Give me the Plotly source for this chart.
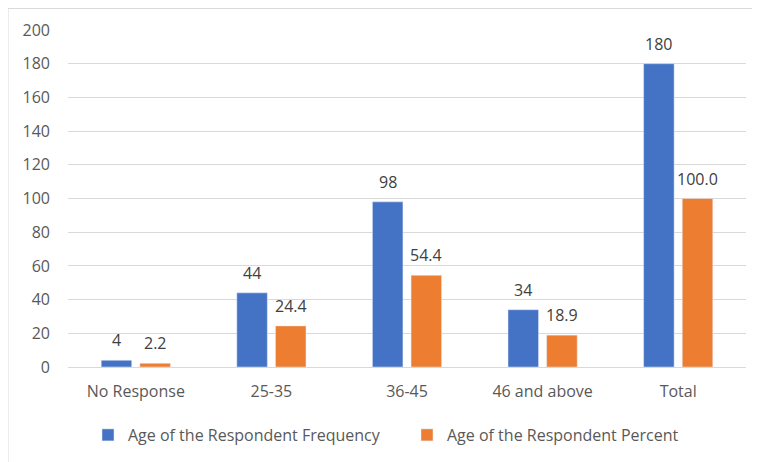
import plotly.graph_objects as go

categories = ["No Response", "25-35", "36-45", "46 and above", "Total"]
frequency = [4, 44, 98, 34, 180]
percent = [2.2, 24.4, 54.4, 18.9, 100.0]
freq_labels = ["4", "44", "98", "34", "180"]
pct_labels = ["2.2", "24.4", "54.4", "18.9", "100.0"]
y_ticks = list(range(0, 201, 20))

FONT = "Open Sans, Liberation Sans, sans-serif"
TXT = "#595959"
FS = 16

# page body has an 8px default margin, so the figure is drawn 8px smaller
W, H = 752, 454
L, T, R, B = 60, 22, 14, 95
PW, PH = W - L - R, H - T - B
BARGAP, GROUPGAP = 0.43, 0.21
slot_px = PW / len(categories) * (1 - BARGAP) / 2  # width of each bar slot in px

fig = go.Figure()
fig.add_trace(go.Bar(
    x=categories, y=frequency, name="Age of the Respondent Frequency",
    marker_color="#4472C4", legend="legend",
))
fig.add_trace(go.Bar(
    x=categories, y=percent, name="Age of the Respondent Percent",
    marker_color="#ED7D31", legend="legend2",
))

annotations = []
for series, labels, side in ((frequency, freq_labels, -1), (percent, pct_labels, 1)):
    for cat, val, lab in zip(categories, series, labels):
        annotations.append(dict(
            x=cat, y=val, text=lab, showarrow=False, xref="x", yref="y",
            xanchor="center", yanchor="bottom", xshift=side * slot_px / 2, yshift=7,
            font=dict(size=FS, color="#404040", family=FONT),
        ))

leg_y = -68 / PH
fig.update_layout(
    width=W, height=H,
    margin=dict(l=L, r=R, t=T, b=B, autoexpand=False),
    paper_bgcolor="white", plot_bgcolor="white",
    barmode="group", bargap=BARGAP, bargroupgap=GROUPGAP,
    font=dict(family=FONT, size=FS, color=TXT),
    legend=dict(orientation="h", x=(88 - 68) / PW, xanchor="left", y=leg_y, yanchor="middle",
                font=dict(size=FS, color=TXT), itemwidth=30),
    legend2=dict(orientation="h", x=(407 - 68) / PW, xanchor="left", y=leg_y, yanchor="middle",
                 font=dict(size=FS, color=TXT), itemwidth=30),
    xaxis=dict(showgrid=False, showline=True, linecolor="#D9D9D9", linewidth=1,
               ticks="", tickfont=dict(size=FS, color=TXT), ticklabelstandoff=10,
               automargin=False),
    yaxis=dict(range=[0, 200], tickvals=y_ticks, showgrid=True, gridcolor="#D9D9D9",
               zeroline=False, showline=False, ticks="", tickfont=dict(size=FS, color=TXT),
               ticklabelstandoff=17, automargin=False),
    annotations=annotations,
    shapes=[dict(type="rect", xref="paper", yref="paper",
                 x0=-(L - 0) / PW, x1=(W + 20 - L) / PW, y0=-0.5, y1=1 + (T - 0.5) / PH,
                 line=dict(color="#D9D9D9", width=1), fillcolor="rgba(0,0,0,0)", layer="below")],
    showlegend=True,
)

fig.write_html("out.html")
